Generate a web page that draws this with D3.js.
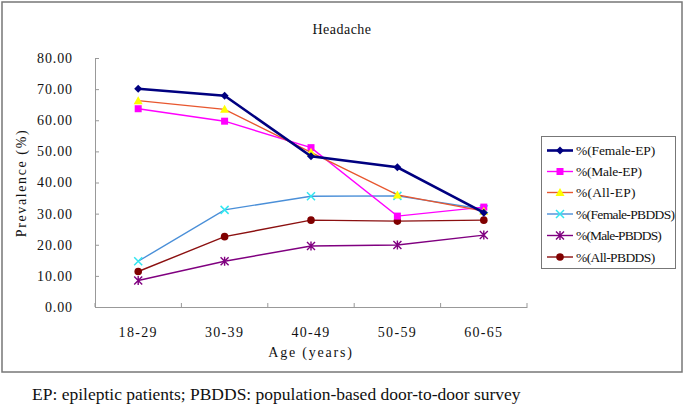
<!DOCTYPE html>
<html><head><meta charset="utf-8">
<script src="https://cdn.jsdelivr.net/npm/d3@7"></script>
<style>body{margin:0;background:#fff}svg{display:block}svg text{font-family:"Liberation Serif","DejaVu Serif",serif}</style>
</head><body><svg id="c" width="685" height="406"></svg>
<script>
const categories = ["18-29","30-39","40-49","50-59","60-65"];
const yTicks = [0,10,20,30,40,50,60,70,80];
const seriesNames = ["%(Female-EP)","%(Male-EP)","%(All-EP)","%(Female-PBDDS)","%(Male-PBDDS)","%(All-PBDDS)"];
const femaleEP = [70.1, 67.9, 48.4, 44.9, 30.3];
const maleEP = [63.7, 59.7, 51.2, 29.2, 32.1];
const allEP = [66.3, 63.5, 49.7, 36.0, 30.8];
const femalePBDDS = [14.7, 31.2, 35.6, 35.7, 31.4];
const malePBDDS = [8.5, 14.7, 19.6, 19.9, 23.1];
const allPBDDS = [11.4, 22.6, 27.9, 27.6, 27.9];
const seriesValues = [femaleEP, maleEP, allEP, femalePBDDS, malePBDDS, allPBDDS];

const styles = [
  {line:"#000080", w:2.6, marker:"diamond", fill:"#000080", stroke:"#000080"},
  {line:"#FF00FF", w:1.4, marker:"square", fill:"#FF00FF", stroke:"#FF00FF"},
  {line:"#E8572F", w:1.4, marker:"triangle", fill:"#FFFF00", stroke:"#FFFF00"},
  {line:"#4A8FD8", w:1.4, marker:"x", fill:"none", stroke:"#33E6F0"},
  {line:"#800080", w:1.4, marker:"star", fill:"none", stroke:"#800080"},
  {line:"#8B1010", w:1.4, marker:"circle", fill:"#800000", stroke:"#800000"}
];

const svg = d3.select("#c");
svg.append("rect").attr("x",2).attr("y",2).attr("width",680).attr("height",370)
  .attr("fill","#fff").attr("stroke","#777").attr("stroke-width",1.5);

const x = d3.scaleBand().domain(categories).range([95,527]);
const y = d3.scaleLinear().domain([0,80]).range([307,58]);

svg.append("text").attr("x",342).attr("y",34).attr("text-anchor","middle")
  .attr("font-size",14).attr("fill","#111").attr("letter-spacing","0.5px").text("Headache");

// y axis
const gy = svg.append("g").attr("transform","translate(95,0)")
  .call(d3.axisLeft(y).tickValues(yTicks).tickSizeInner(-4).tickSizeOuter(0).tickPadding(22)
  .tickFormat(d=>d3.format(".2f")(d)));
gy.select(".domain").attr("stroke","#999");
gy.selectAll(".tick line").attr("stroke","#999");
gy.selectAll(".tick text").attr("font-size",14).attr("fill","#111").attr("letter-spacing","0.9px");

// x axis
const gx = svg.append("g").attr("transform","translate(0,307)")
  .call(d3.axisBottom(x).tickSize(0).tickPadding(20));
gx.select(".domain").attr("stroke","#999");
gx.selectAll(".tick text").attr("font-size",14).attr("fill","#111").attr("letter-spacing","1.3px");
const bounds = categories.map(c=>x(c)).concat([x.range()[1]]);
gx.selectAll("line.bt").data(bounds).enter().append("line").attr("class","bt")
  .attr("x1",d=>d).attr("x2",d=>d).attr("y1",-4).attr("y2",0).attr("stroke","#999");

svg.append("text").attr("x",311).attr("y",357).attr("text-anchor","middle")
  .attr("font-size",14).attr("fill","#111").attr("letter-spacing","1.8px").text("Age (years)");
svg.append("text").attr("transform","translate(26,183) rotate(-90)").attr("text-anchor","middle")
  .attr("font-size",14).attr("fill","#111").attr("letter-spacing","1.6px").text("Prevalence (%)");

function drawMarker(g, type, cx, cy, st){
  const s = 4;
  if(type==="diamond"){
    g.append("path").attr("d",`M${cx},${cy-s}L${cx+s},${cy}L${cx},${cy+s}L${cx-s},${cy}Z`).attr("fill",st.fill);
  } else if(type==="square"){
    g.append("rect").attr("x",cx-3.5).attr("y",cy-3.5).attr("width",7).attr("height",7).attr("fill",st.fill);
  } else if(type==="triangle"){
    g.append("path").attr("d",`M${cx},${cy-4.5}L${cx+4.5},${cy+3.5}L${cx-4.5},${cy+3.5}Z`).attr("fill",st.fill);
  } else if(type==="x"){
    g.append("path").attr("d",`M${cx-4},${cy-4}L${cx+4},${cy+4}M${cx-4},${cy+4}L${cx+4},${cy-4}`).attr("stroke",st.stroke).attr("stroke-width",1.5);
  } else if(type==="star"){
    g.append("path").attr("d",`M${cx-4},${cy-4}L${cx+4},${cy+4}M${cx-4},${cy+4}L${cx+4},${cy-4}M${cx},${cy-4.5}L${cx},${cy+4.5}`).attr("stroke",st.stroke).attr("stroke-width",1.4);
  } else if(type==="circle"){
    g.append("circle").attr("cx",cx).attr("cy",cy).attr("r",3.8).attr("fill",st.fill);
  }
}

const line = d3.line().x((d,i)=>x(categories[i])+x.bandwidth()/2).y(d=>y(d));
const order = [5,4,3,1,2,0];
order.forEach(k=>{
  const st = styles[k];
  const g = svg.append("g");
  g.append("path").datum(seriesValues[k]).attr("d",line).attr("fill","none")
    .attr("stroke",st.line).attr("stroke-width",st.w);
  seriesValues[k].forEach((v,i)=>drawMarker(g, st.marker, x(categories[i])+x.bandwidth()/2, y(v), st));
});

// legend
const lg = svg.append("g");
lg.append("rect").attr("x",541.5).attr("y",136.5).attr("width",134).attr("height",132)
  .attr("fill","#fff").attr("stroke","#777").attr("stroke-width",1);
const rowY = [150.5,171.5,192.5,214,235.5,257];
seriesNames.forEach((n,k)=>{
  const st = styles[k];
  lg.append("line").attr("x1",547).attr("x2",573).attr("y1",rowY[k]).attr("y2",rowY[k])
    .attr("stroke",st.line).attr("stroke-width",st.w);
  drawMarker(lg, st.marker, 560, rowY[k], st);
  lg.append("text").attr("x",576).attr("y",rowY[k]+4.5).attr("font-size",13.5).attr("fill","#111")
    .attr("textLength",n.length*6.6).attr("lengthAdjust","spacing").text(n);
});

svg.append("text").attr("x",32).attr("y",400).attr("font-size",17.5).attr("fill","#111")
  .text("EP: epileptic patients; PBDDS: population-based door-to-door survey");
</script></body></html>
